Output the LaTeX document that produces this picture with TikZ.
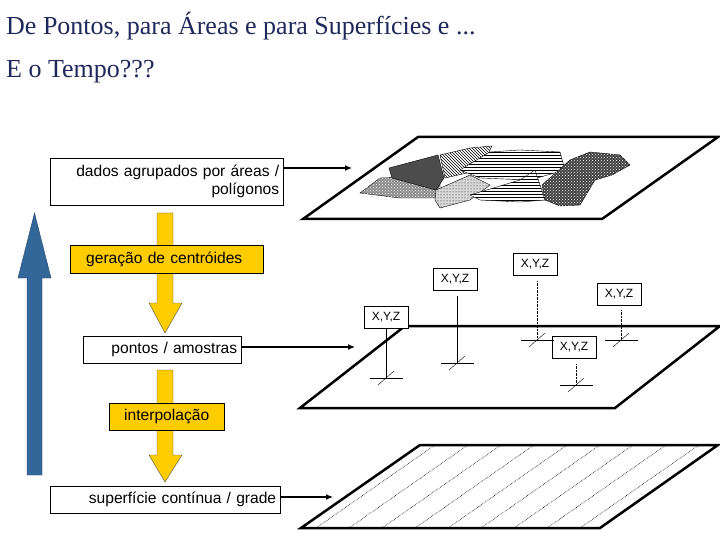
\documentclass[tikz,border=0pt]{standalone}
\usepackage{fontspec}
\setmainfont{Liberation Serif}
\newfontfamily\arialf{Liberation Sans}
\usetikzlibrary{patterns,arrows.meta}
\definecolor{ttl}{RGB}{30,40,90}
\definecolor{yel}{RGB}{255,204,0}
\definecolor{blu}{RGB}{51,102,153}
\tikzset{
 lbox/.style={draw,thin,font=\arialf\fontsize{15.6}{18}\selectfont,inner sep=3pt},
 xyz/.style={draw,thin,fill=white,font=\arialf\fontsize{12}{14}\selectfont,minimum width=44,minimum height=22,inner sep=1pt},
 plane/.style={line width=2.5pt,line join=miter},
 conn/.style={-{Latex[length=7,width=6]},line width=1.2pt},
 yarrow/.style={fill=yel,draw=black!70,thin},
}
\newcommand{\mkcross}[1]{\draw (#1) ++(-16,0) -- ++(33,0); \draw (#1) ++(-8,7) -- ++(16,-14);}
\begin{document}
\begin{tikzpicture}[x=1pt,y=-1pt]
\useasboundingbox (0,0) rectangle (720,540);
% title
\node[anchor=west,text=ttl,font=\fontsize{26}{30}\selectfont,inner sep=0] (t1) at (6,26) {De Pontos, para Áreas e para Superfícies e ...};
\node[anchor=west,text=ttl,font=\fontsize{26}{30}\selectfont,inner sep=0] (t2) at (6,72) {E o Tempo???};
% blue arrow
\draw[fill=blu,draw=blu!70!black,thin] (27,475) -- (27,278) -- (18,278) -- (34.5,213) -- (51,278) -- (42,278) -- (42,475) -- cycle;
% yellow arrows
\draw[yarrow] (157,213) -- (157,303) -- (149,303) -- (165,333) -- (182,303) -- (173,303) -- (173,213) -- cycle;
\draw[yarrow] (157,370) -- (157,455) -- (149,455) -- (165,482) -- (182,455) -- (173,455) -- (173,370) -- cycle;
% boxes
\node[lbox,anchor=north west,minimum width=233,minimum height=47,text width=225,align=right] (b1) at (50,158) {dados agrupados por áreas /\\ polígonos};
\node[lbox,fill=yel,anchor=north west,minimum width=193,minimum height=28,text width=185,align=left] (g1) at (70,245) {\hspace{12pt}geração de centróides};
\node[lbox,fill=white,anchor=north west,minimum width=158,minimum height=27,text width=150,align=right] (b2) at (83,336) {pontos / amostras};
\node[lbox,fill=yel,anchor=north west,minimum width=115,minimum height=27] (g2) at (109,403) {interpolação};
\node[lbox,fill=white,anchor=north west,minimum width=230,minimum height=27,text width=222,align=right] (b3) at (50,486) {superfície contínua / grade};
% planes
\coordinate (p1) at (352,168); \coordinate (p2) at (355,347); \coordinate (p3) at (333,497);
\draw[conn] (b1.east |- p1) -- (p1);
\draw[conn] (b2.east |- p2) -- (p2);
\draw[conn] (b3.east |- p3) -- (p3);
\draw[plane] (418,137) -- (718,137) -- (602,219) -- (303,219) -- cycle;
\draw[plane] (405,326) -- (720,326) -- (615,408) -- (300,408) -- cycle;
% hatch bottom
\foreach \k in {0,...,8}{\draw[densely dotted,semithick] (435+33*\k,445) -- (316+33*\k,528);}
\draw[plane] (420,445) -- (718,445) -- (600,528) -- (301,528) -- cycle;
% polygons
\begin{scope}[draw=black,thin]
\filldraw[fill=black!45] (360,193) -- (380,178) -- (440,176) -- (440,198) -- (400,198) -- cycle;
\path[pattern=crosshatch dots,pattern color=white] (360,193) -- (380,178) -- (440,176) -- (440,198) -- (400,198) -- cycle;
\filldraw[fill=black!70] (389,168) -- (438,155) -- (444,178) -- (436,190) -- (392,178) -- cycle;
\filldraw[fill=black!15] (436,190) -- (470,175) -- (490,185) -- (470,200) -- (440,208) -- (435,200) -- cycle;
\path[pattern=dots] (436,190) -- (470,175) -- (490,185) -- (470,200) -- (440,208) -- (435,200) -- cycle;
\filldraw[pattern=north west lines] (440,155) -- (470,148) -- (492,146) -- (480,170) -- (445,178) -- cycle;
\filldraw[fill=white] (460,170) -- (490,152) -- (520,150) -- (560,152) -- (565,170) -- (530,180) -- (480,178) -- cycle;
\path[pattern=horizontal lines] (460,170) -- (490,152) -- (520,150) -- (560,152) -- (565,170) -- (530,180) -- (480,178) -- cycle;
\filldraw[fill=white] (470,195) -- (520,180) -- (535,170) -- (545,200) -- (520,202) -- (480,200) -- cycle;
\path[pattern=horizontal lines] (470,195) -- (520,180) -- (535,170) -- (545,200) -- (520,202) -- (480,200) -- cycle;
\filldraw[fill=black!75] (542,185) -- (570,160) -- (590,152) -- (620,155) -- (630,165) -- (612,175) -- (595,180) -- (580,205) -- (560,206) -- (545,200) -- cycle;
\path[pattern=crosshatch dots,pattern color=white] (542,185) -- (570,160) -- (590,152) -- (620,155) -- (630,165) -- (612,175) -- (595,180) -- (580,205) -- (560,206) -- (545,200) -- cycle;
\end{scope}
% markers
\node[xyz] (m1) at (386,317) {X,Y,Z};
\node[xyz] (m2) at (455,279) {X,Y,Z};
\node[xyz] (m3) at (535,264) {X,Y,Z};
\node[xyz] (m4) at (619,294) {X,Y,Z};
\node[xyz] (m5) at (574,347) {X,Y,Z};
\coordinate (c1) at (386,378); \coordinate (c2) at (457,363); \coordinate (c3) at (537,340);
\coordinate (c4) at (621,340); \coordinate (c5) at (576,385);
\draw (m1.south -| c1) -- (c1); \draw (m2.south -| c2) ++(0,6) -- (c2);
\draw[densely dotted] (m3.south -| c3) ++(0,6) -- (c3);
\draw[densely dotted] (m4.south -| c4) ++(0,5) -- (c4);
\draw[densely dotted] (m5.south -| c5) ++(0,6) -- (c5);
\mkcross{c1}\mkcross{c2}\mkcross{c3}\mkcross{c4}\mkcross{c5}
\end{tikzpicture}
\end{document}
